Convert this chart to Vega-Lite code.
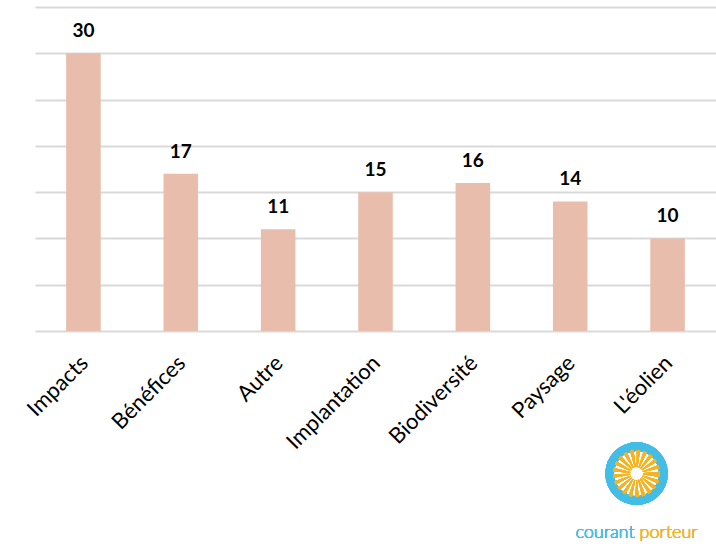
{
  "$schema": "https://vega.github.io/schema/vega-lite/v6.json",
  "autosize": "none",
  "width": 681,
  "height": 324,
  "padding": {"left": 35, "top": 7, "right": 0, "bottom": 213},
  "background": "white",
  "config": {"view": {"stroke": null}, "font": "Lato"},
  "data": {"values": [
    {"cat": "Impacts", "n": 30},
    {"cat": "Bénéfices", "n": 17},
    {"cat": "Autre", "n": 11},
    {"cat": "Implantation", "n": 15},
    {"cat": "Biodiversité", "n": 16},
    {"cat": "Paysage", "n": 14},
    {"cat": "L'éolien", "n": 10}
  ]},
  "encoding": {
    "x": {"field": "cat", "type": "nominal", "sort": null,
      "scale": {"paddingInner": 0.645, "paddingOuter": 0.32},
      "axis": {"title": null, "labelAngle": -45, "labelFontSize": 22, "labelFont": "Lato", "labelColor": "#000000", "labelPadding": 21, "labelOffset": -6, "ticks": false, "domain": false, "grid": false}},
    "y": {"field": "n", "type": "quantitative",
      "scale": {"domain": [0, 35], "nice": false},
      "axis": {"title": null, "labels": false, "ticks": false, "domain": false, "values": [0,5,10,15,20,25,30,35], "grid": true, "gridColor": "#d9d9d9", "gridWidth": 2}}
  },
  "layer": [
    {"mark": {"type": "bar", "color": "#e8bdab"}},
    {"mark": {"type": "text", "fontSize": 19, "fontWeight": "bold", "dy": -16, "baseline": "alphabetic", "color": "#000000"},
     "encoding": {"text": {"field": "n", "type": "quantitative"}}},
    {"mark": {"type": "point", "shape": "circle", "filled": true, "color": "#42bde8", "size": 3900, "opacity": 1, "xOffset": -31},
     "encoding": {"x": {"datum": "L'éolien"}, "y": {"datum": -15.4}}},
    {"mark": {"type": "point", "shape": "circle", "filled": true, "color": "#ffffff", "size": 1900, "opacity": 1, "xOffset": -31},
     "encoding": {"x": {"datum": "L'éolien"}, "y": {"datum": -15.4}}},
    {"mark": {"type": "point", "shape": "circle", "filled": false, "stroke": "#f5b324", "strokeWidth": 17, "strokeDash": [2.2, 2.2], "size": 900, "opacity": 1, "xOffset": -31},
     "encoding": {"x": {"datum": "L'éolien"}, "y": {"datum": -15.4}}},
    {"mark": {"type": "text", "text": "courant", "color": "#42bde8", "fontSize": 18, "font": "Lato", "fontWeight": 300, "align": "right", "dx": -33, "baseline": "alphabetic"},
     "encoding": {"x": {"datum": "L'éolien"}, "y": {"datum": -22.4}}},
    {"mark": {"type": "text", "text": "porteur", "color": "#f5b324", "fontSize": 18, "font": "Lato", "fontWeight": 300, "align": "left", "dx": -28, "baseline": "alphabetic"},
     "encoding": {"x": {"datum": "L'éolien"}, "y": {"datum": -22.4}}}
  ]
}
